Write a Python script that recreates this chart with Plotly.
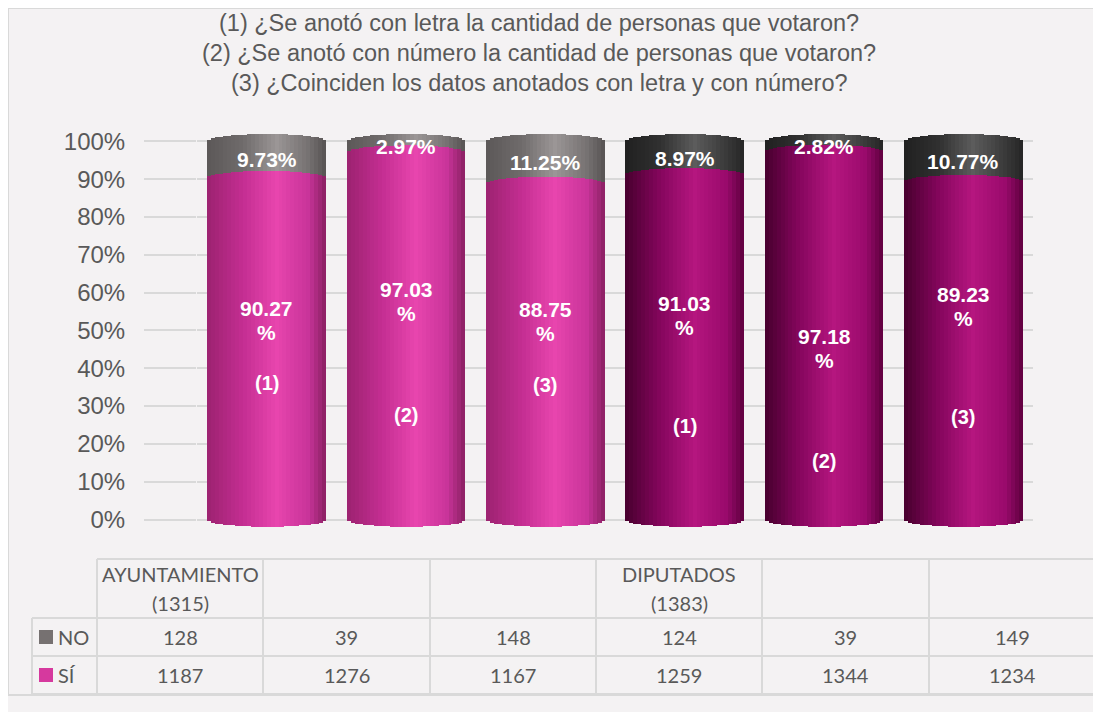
import math
import plotly.graph_objects as go

# ---------------- data ----------------
groups = ["AYUNTAMIENTO", "DIPUTADOS"]
group_totals = [1315, 1383]
questions = ["(1)", "(2)", "(3)"]
categories = [f"{g} {q}" for g in groups for q in questions]
header_labels = ["AYUNTAMIENTO<br>(1315)", "", "", "DIPUTADOS<br>(1383)", "", ""]
no_counts = [128, 39, 148, 124, 39, 149]
si_counts = [1187, 1276, 1167, 1259, 1344, 1234]
no_pct = [9.73, 2.97, 11.25, 8.97, 2.82, 10.77]
si_pct = [90.27, 97.03, 88.75, 91.03, 97.18, 89.23]
tag_labels = ["(1)", "(2)", "(3)", "(1)", "(2)", "(3)"]
series_names = ["NO", "SÍ"]
title_lines = [
    "(1) ¿Se anotó con letra la cantidad de personas que votaron?",
    "(2) ¿Se anotó con número la cantidad de personas que votaron?",
    "(3) ¿Coinciden los datos anotados con letra y con número?",
]

# label placement (manual positions in the original, in % of axis)
si_label_pos = [52.5, 57.6, 52.3, 54.0, 45.3, 56.4]
tag_label_pos = [36.0, 27.7, 35.5, 24.8, 15.5, 27.2]

# ---------------- layout geometry (page pixels) ----------------
OFF = 8                      # page margin of the html body
W_PX, H_PX = 1093, 704       # figure size
PLOT_X0, PLOT_X1 = 197, 1033  # plot area in page pixels
PLOT_Y0, PLOT_Y1 = 130, 529
L = PLOT_X0 - OFF
R = W_PX - (PLOT_X1 - OFF)
T = PLOT_Y0 - OFF
B = H_PX - (PLOT_Y1 - OFF)
PW = W_PX - L - R
PH = H_PX - T - B


def px(x):
    return (x - OFF - L) / PW


def py(y):
    return (H_PX - B - (y - OFF)) / PH


TXT = "#595959"
GRID = "#D9D9D9"
BG = "#F4F2F3"
ARIAL = "Liberation Sans, Arial, sans-serif"
CAL = "Lato, Calibri, sans-serif"

# cylinder shading stops (t across the bar width)
stops_t = [0.0, 0.3, 0.58, 0.85, 1.0]
shades = {
    ("SÍ", 0): ["#9C2270", "#C42E92", "#E845AE", "#C9349A", "#8A2062"],
    ("SÍ", 1): ["#48002E", "#86065E", "#B5167F", "#9A0A6C", "#5E003E"],
    ("NO", 0): ["#5C5858", "#6F6B6B", "#9B9696", "#767272", "#565252"],
    ("NO", 1): ["#202020", "#313131", "#5C5C5C", "#3A3A3A", "#252525"],
}
legend_colors = {"NO": "#767171", "SÍ": "#D6399E"}


def hex2rgb(h):
    h = h.lstrip("#")
    return [int(h[i:i + 2], 16) for i in (0, 2, 4)]


def shade(series, grp, t):
    cols = [hex2rgb(c) for c in shades[(series, grp)]]
    for j in range(len(stops_t) - 1):
        if stops_t[j] <= t <= stops_t[j + 1]:
            f = (t - stops_t[j]) / (stops_t[j + 1] - stops_t[j])
            c = [round(cols[j][k] + (cols[j + 1][k] - cols[j][k]) * f) for k in range(3)]
            return f"rgb({c[0]},{c[1]},{c[2]})"
    c = cols[-1]
    return f"rgb({c[0]},{c[1]},{c[2]})"


fig = go.Figure()

BAR_W = 0.85
N = 30
CAP = 0.019
grp_idx = [i // len(questions) for i in range(len(categories))]
si = [v / 100 for v in si_pct]
no = [v / 100 for v in no_pct]

for k in range(N):
    t = (k + 0.5) / N
    e = CAP * math.sqrt(max(0.0, 1 - (2 * t - 1) ** 2))
    off = -BAR_W / 2 + k * BAR_W / N
    wid = BAR_W / N * (1.3 if k < N - 1 else 1.0)
    fig.add_trace(go.Bar(
        x=categories, y=[s + 2 * e for s in si], base=[-e] * len(si),
        offset=off, width=wid,
        marker=dict(color=[shade("SÍ", g, t) for g in grp_idx], line=dict(width=0)),
        hoverinfo="skip", showlegend=False,
    ))
    fig.add_trace(go.Bar(
        x=categories, y=no, base=[s + e for s in si],
        offset=off, width=wid,
        marker=dict(color=[shade("NO", g, t) for g in grp_idx], line=dict(width=0)),
        hoverinfo="skip", showlegend=False,
    ))

ann = []


def label(x, y, text, font, xref="paper", yref="paper", xanchor="center", yshift=0):
    ann.append(dict(x=x, y=y, xref=xref, yref=yref, showarrow=False, text=text,
                    xanchor=xanchor, yanchor="middle", yshift=yshift, font=font))


WHITE = dict(family=ARIAL, size=21, color="white")
for i, c in enumerate(categories):
    label(c, si[i] + no[i] / 2, f"<b>{no_pct[i]:.2f}%</b>", WHITE, "x", "y")
    label(c, si_label_pos[i] / 100, f"<b>{si_pct[i]:.2f}</b>", WHITE, "x", "y", yshift=12)
    label(c, si_label_pos[i] / 100, "<b>%</b>", WHITE, "x", "y", yshift=-12)
    label(c, tag_label_pos[i] / 100, f"<b>{tag_labels[i]}</b>",
          dict(family=ARIAL, size=20, color="white"), "x", "y")

# title
for j, line in enumerate(title_lines):
    label(px(539), py(23 + 30 * j), line, dict(family=ARIAL, size=23.5, color=TXT))

# data table
col_x = [97, 263, 430, 596, 762, 929, 1095]
row_y = [559, 618, 656, 694]
leg_x0 = 32
shapes = []
# chart frame
shapes.append(dict(type="rect", xref="paper", yref="paper", x0=px(OFF), x1=px(1096),
                   y0=py(OFF), y1=py(695), line=dict(color=GRID, width=2),
                   fillcolor=BG, layer="below"))


def hline(y, x0, x1):
    shapes.append(dict(type="line", xref="paper", yref="paper", x0=px(x0), x1=px(x1),
                       y0=py(y), y1=py(y), line=dict(color=GRID, width=2)))


def vline(x, y0, y1):
    shapes.append(dict(type="line", xref="paper", yref="paper", x0=px(x), x1=px(x),
                       y0=py(y0), y1=py(y1), line=dict(color=GRID, width=2)))


hline(row_y[0], col_x[0], col_x[-1])
for yy in row_y[1:]:
    hline(yy, leg_x0, col_x[-1])
vline(leg_x0, row_y[1], row_y[-1])
for xx in col_x:
    vline(xx, row_y[0], row_y[-1])

TABLE_FONT = dict(family=CAL, size=20, color=TXT)
for i in range(len(categories)):
    cx = (col_x[i] + col_x[i + 1]) / 2
    parts = header_labels[i].split("<br>") if header_labels[i] else []
    for j, p in enumerate(parts):
        label(px(cx), py(574 + 29 * j), p, TABLE_FONT)
    for r, vals in enumerate([no_counts, si_counts]):
        cy = (row_y[r + 1] + row_y[r + 2]) / 2
        label(px(cx), py(cy), str(vals[i]), TABLE_FONT)

for r, name in enumerate(series_names):
    cy = (row_y[r + 1] + row_y[r + 2]) / 2
    shapes.append(dict(type="rect", xref="paper", yref="paper", x0=px(39), x1=px(53),
                       y0=py(cy - 7), y1=py(cy + 7), line=dict(width=0),
                       fillcolor=legend_colors[name]))
    label(px(56), py(cy), name, TABLE_FONT, xanchor="left")

fig.update_layout(
    width=W_PX, height=H_PX,
    margin=dict(l=L, r=R, t=T, b=B, autoexpand=False),
    paper_bgcolor=BG, plot_bgcolor="rgba(0,0,0,0)",
    barmode="overlay", bargap=0,
    annotations=ann, shapes=shapes,
    xaxis=dict(type="category", categoryorder="array", categoryarray=categories,
               range=[-0.5, len(categories) - 0.5], showticklabels=False,
               showgrid=False, zeroline=False, showline=False, ticks=""),
    yaxis=dict(range=[-0.025, 1.03], tickvals=[v / 10 for v in range(11)],
               tickformat=".0%", showgrid=True, gridcolor=GRID, gridwidth=1.5,
               zeroline=False, showline=False, ticks="outside", ticklen=52,
               tickcolor=GRID, tickwidth=1.5, ticklabelstandoff=14,
               automargin=False,
               tickfont=dict(family=ARIAL, size=24, color=TXT)),
    showlegend=False,
)

fig.write_html("out.html")
